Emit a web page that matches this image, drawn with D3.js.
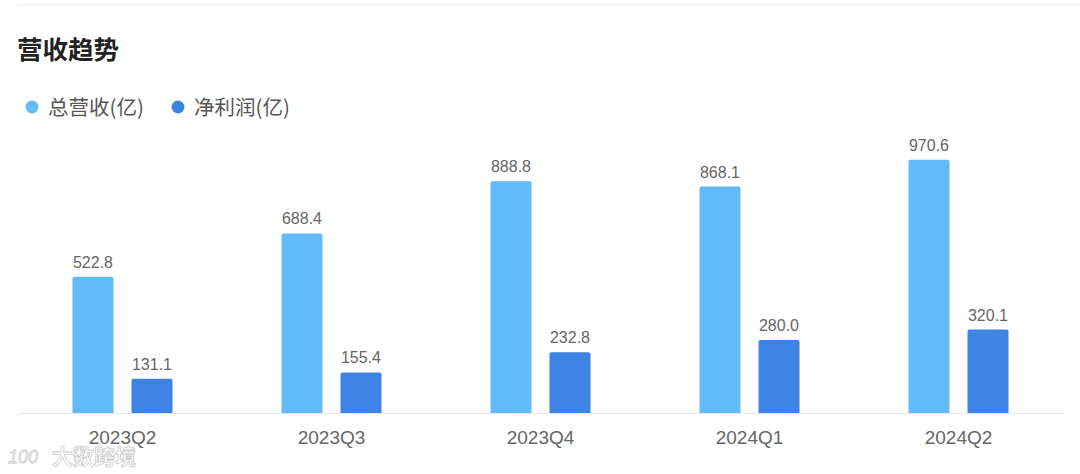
<!DOCTYPE html>
<html><head><meta charset="utf-8">
<script src="https://cdn.jsdelivr.net/npm/d3@7/dist/d3.min.js"></script>
<style>
html,body{margin:0;padding:0;background:#fff;}
svg{display:block;font-family:"Liberation Sans","Noto Sans CJK SC",Arial,sans-serif;}
</style></head>
<body><svg id="c" width="1080" height="474"></svg>
<script>
const categories = ["2023Q2","2023Q3","2023Q4","2024Q1","2024Q2"];
const seriesNames = ["总营收(亿)","净利润(亿)"];
const revenue = [522.8, 688.4, 888.8, 868.1, 970.6];
const profit = [131.1, 155.4, 232.8, 280.0, 320.1];
const colors = ["#63BAF8","#3D84E5"];

const svg = d3.select("#c");
const cjk = '"Noto Sans CJK SC","PingFang SC",sans-serif';

// top divider
svg.append("line").attr("x1",18).attr("x2",1080).attr("y1",4.5).attr("y2",4.5)
  .attr("stroke","#eeeeee").attr("stroke-width",1.5);

// title
svg.append("text").attr("x",17).attr("y",59).text("营收趋势")
  .attr("font-family",cjk).attr("font-weight","bold").attr("font-size",25.5).attr("fill","#222");

// legend
const legX = [32,178];
seriesNames.forEach((n,i)=>{
  svg.append("circle").attr("cx",legX[i]).attr("cy",107).attr("r",6.5).attr("fill",colors[i]);
  svg.append("text").attr("x",legX[i]+16).attr("y",114.5).text(n)
    .attr("font-family",cjk).attr("font-size",20.5).attr("fill","#555");
});

const x = d3.scaleBand().domain(categories).range([18,1063]).paddingInner(0).paddingOuter(0);
const y = d3.scaleLinear().domain([0,1200]).range([413,100]);
const inner = d3.scaleBand().domain([0,1]).range([x.bandwidth()/2-50, x.bandwidth()/2+50]).paddingInner(0.305).paddingOuter(0);

const data = categories.map((c,i)=>({c, vals:[revenue[i], profit[i]]}));

// axis
const xAxis = svg.append("g").attr("transform","translate(0,413)")
  .call(d3.axisBottom(x).tickSize(0).tickPadding(0));
xAxis.select(".domain").attr("stroke","#e6e6e6").attr("stroke-width",1.2);
xAxis.selectAll("text").attr("font-size",19).attr("fill","#666")
  .attr("font-family",'"Liberation Sans",Arial,sans-serif').attr("dy","0").attr("y",31);

const g = svg.selectAll("g.grp").data(data).join("g").attr("class","grp")
  .attr("transform",d=>`translate(${x(d.c)},0)`);

g.selectAll("path.bar").data(d=>d.vals.map((v,i)=>({v,i}))).join("path")
  .attr("class","bar")
  .attr("fill",d=>colors[d.i])
  .attr("d",d=>{
    const x0 = inner(d.i), w = inner.bandwidth(), t = y(d.v), b = y(0), r = 2;
    return `M${x0},${b}V${t+r}Q${x0},${t} ${x0+r},${t}H${x0+w-r}Q${x0+w},${t} ${x0+w},${t+r}V${b}Z`;
  });

g.selectAll("text.lbl").data(d=>d.vals.map((v,i)=>({v,i}))).join("text")
  .attr("class","lbl")
  .attr("x",d=>inner(d.i)+inner.bandwidth()/2)
  .attr("y",d=>y(d.v)-9)
  .attr("text-anchor","middle").attr("font-size",16).attr("fill","#666")
  .text(d=>d.v.toFixed(1));

// watermark
const wm = svg.append("g").attr("opacity",0.9);
wm.append("text").attr("x",8).attr("y",463).text("100")
  .attr("font-family",'"Liberation Sans",Arial,sans-serif').attr("font-size",18).attr("font-style","italic")
  .attr("fill","#ffffff").attr("stroke","#c8c8c8").attr("stroke-width",0.8);
wm.append("text").attr("x",52).attr("y",464).text("大数跨境")
  .attr("font-family",cjk).attr("font-size",21).attr("font-weight","bold")
  .attr("fill","#ffffff").attr("stroke","#c8c8c8").attr("stroke-width",0.8);
</script></body></html>
